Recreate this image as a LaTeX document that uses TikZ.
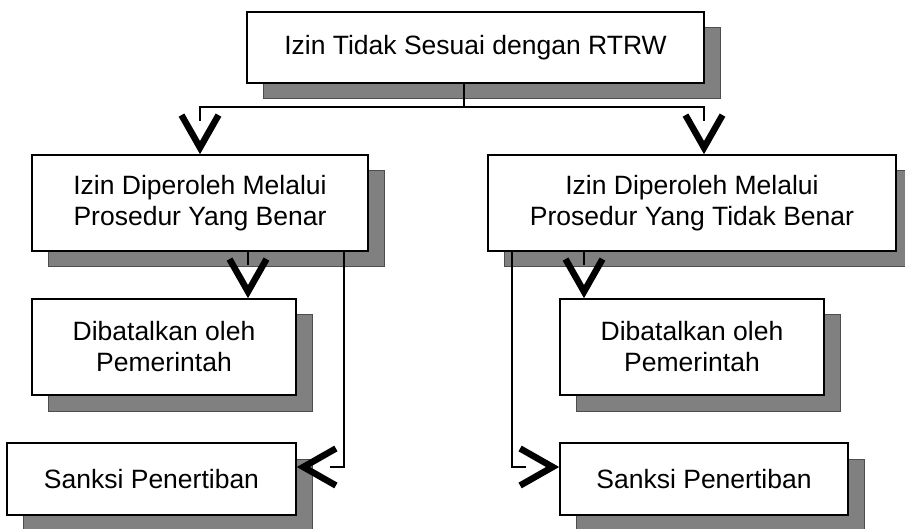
\documentclass[tikz,border=0pt]{standalone}
\usepackage{fontspec}
\setmainfont{Liberation Sans}
\usetikzlibrary{shadows}
\definecolor{shadowgray}{RGB}{128,128,128}
\definecolor{shadowedge}{RGB}{77,77,77}
\begin{document}
\begin{tikzpicture}[x=1pt,y=-1pt,
  box/.style={draw=black, line width=1.8pt, fill=white, inner sep=0pt, align=center,
    font=\fontsize{26.5pt}{31pt}\selectfont,
    drop shadow={shadow xshift=16pt, shadow yshift=-16pt, fill=shadowgray, draw=shadowedge, line width=1pt, opacity=1}},
  conn/.style={line width=1.8pt, draw=black},
  tocheve/.style={shorten >=33pt},
  chevron/.pic={\draw[line width=6.5pt, line join=miter, line cap=butt, miter limit=10] (-18.5,-39) -- (0,-6.5) -- (18.5,-39);}]
\useasboundingbox (0,0) rectangle (905,529);
\node[box, minimum width=457pt, minimum height=71pt] (top) at (475.5,47.5) {Izin Tidak Sesuai dengan RTRW};
\node[box, minimum width=336pt, minimum height=96pt] (ml) at (200,203) {Izin Diperoleh Melalui\\Prosedur Yang Benar};
\node[box, minimum width=408pt, minimum height=96pt] (mr) at (692,203) {Izin Diperoleh Melalui\\Prosedur Yang Tidak Benar};
\node[box, minimum width=264pt, minimum height=96pt] (dl) at (164,347) {Dibatalkan oleh\\Pemerintah};
\node[box, minimum width=264pt, minimum height=96pt] (dr) at (692,347) {Dibatalkan oleh\\Pemerintah};
\node[box, minimum width=289pt, minimum height=72pt] (sl) at (151.5,479) {Sanksi Penertiban};
\node[box, minimum width=288pt, minimum height=72pt] (sr) at (704,479) {Sanksi Penertiban};
\coordinate (jt) at (464,107);
\coordinate (jl) at (200,107);
\coordinate (jr) at (704,107);
\coordinate (a1) at (248,0);
\coordinate (a2) at (344,467);
\coordinate (b1) at (584,0);
\coordinate (b2) at (512,467);
\draw[conn] (top.south -| jt) -- (jt);
\draw[conn,tocheve] (jt) -- (jl) -- (ml.north -| jl);
\draw[conn,tocheve] (jt) -- (jr) -- (mr.north -| jr);
\draw[conn,tocheve] (ml.south -| a1) -- (dl.north -| a1);
\draw[conn,tocheve] (ml.south -| a2) -- (a2) -- (sl.east |- a2);
\draw[conn,tocheve] (mr.south -| b1) -- (dr.north -| b1);
\draw[conn,tocheve] (mr.south -| b2) -- (b2) -- (sr.west |- b2);
\path (ml.north -| jl) pic{chevron};
\path (mr.north -| jr) pic{chevron};
\path (dl.north -| a1) pic{chevron};
\path (dr.north -| b1) pic{chevron};
\path (sl.east |- a2) pic[rotate=-90]{chevron};
\path (sr.west |- b2) pic[rotate=90]{chevron};
\end{tikzpicture}
\end{document}
